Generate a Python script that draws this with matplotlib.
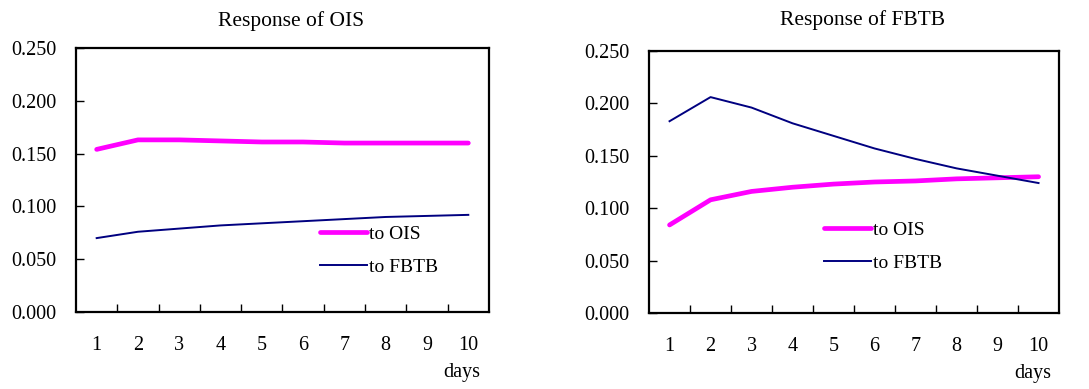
import matplotlib
matplotlib.use("Agg")
import matplotlib.pyplot as plt
import matplotlib.transforms as mtransforms
import numpy as np

days = np.arange(1, 11)

# Response of OIS
ois_to_ois = [0.154, 0.163, 0.163, 0.162, 0.161, 0.161, 0.160, 0.160, 0.160, 0.160]
ois_to_fbtb = [0.070, 0.076, 0.079, 0.082, 0.084, 0.086, 0.088, 0.090, 0.091, 0.092]

# Response of FBTB
fbtb_to_ois = [0.084, 0.108, 0.116, 0.120, 0.123, 0.125, 0.126, 0.128, 0.129, 0.130]
fbtb_to_fbtb = [0.183, 0.206, 0.196, 0.181, 0.169, 0.157, 0.147, 0.138, 0.131, 0.124]

y_ticks = [0.0, 0.05, 0.10, 0.15, 0.20, 0.25]

MAGENTA = "#ff00ff"
NAVY = "#000080"
FONT = "Liberation Serif"

plt.rcParams["font.family"] = FONT

fig = plt.figure(figsize=(10.89, 3.89), dpi=100)
ax1 = fig.add_axes([0.0698, 0.1979, 0.3792, 0.6787])
ax2 = fig.add_axes([0.596, 0.1954, 0.3765, 0.6735])

panels = [
    (ax1, "Response of OIS", ois_to_ois, ois_to_fbtb, (0.591, 0.328), 16),
    (ax2, "Response of FBTB", fbtb_to_ois, fbtb_to_fbtb, (0.427, 0.350), 19),
]

for ax, title, to_ois, to_fbtb, leg_pos, tpad in panels:
    ax.plot(days, to_ois, color=MAGENTA, lw=3.4, solid_capstyle="round",
            label="to OIS")
    ax.plot(days, to_fbtb, color=NAVY, lw=1.4, label="to FBTB")

    ax.set_xlim(0.5, 10.5)
    ax.set_ylim(0, 0.25)
    ax.set_xticks(days)
    ax.set_xticks(np.arange(1.5, 10.5, 1.0), minor=True)
    ax.set_yticks(y_ticks)
    ax.set_yticklabels([f"{v:.3f}" for v in y_ticks])

    ax.tick_params(axis="x", which="major", length=0, pad=17, labelsize=14.5)
    ax.tick_params(axis="x", which="minor", direction="in", length=6,
                   width=1.0, color="black")
    ax.tick_params(axis="y", direction="in", length=6, width=1.0, pad=14,
                   labelsize=14.5)
    for side in ax.spines.values():
        side.set_linewidth(1.6)
        side.set_color("black")

    ax.set_title(title, fontsize=15.5, pad=tpad, x=0.52)

    trans = mtransforms.blended_transform_factory(ax.transData, ax.transAxes)
    ax.text(9.85, -0.23, "days", transform=trans, ha="center", va="center",
            fontsize=14.5)

    ax.legend(loc="upper left", bbox_to_anchor=leg_pos, frameon=False,
              fontsize=14, handlelength=2.4, handletextpad=0.12,
              labelspacing=0.8, borderpad=0, borderaxespad=0)

fig.savefig("out.png", dpi=100, facecolor="white")
